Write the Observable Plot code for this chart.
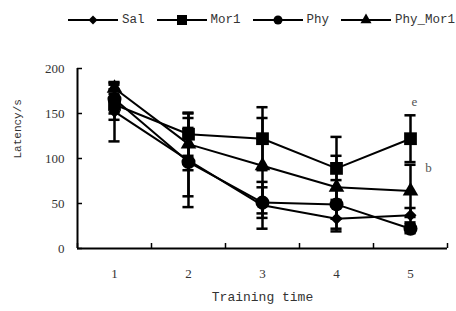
<!DOCTYPE html>
<html><head><meta charset="utf-8">
<script src="https://cdn.jsdelivr.net/npm/d3@7"></script>
<script src="https://cdn.jsdelivr.net/npm/@observablehq/plot@0.6"></script>
<style>
body{margin:0;background:#fff;width:456px;height:311px;overflow:hidden}
#legend{height:40px;display:flex;align-items:center;gap:12px;padding-left:68px;box-sizing:border-box;font-family:'Liberation Mono',monospace;font-size:12.5px;color:#333}
#legend .item{display:flex;align-items:center;gap:4px}
</style></head>
<body><div id="legend"></div><div id="chart"></div>
<script>
const times = [1, 2, 3, 4, 5];
const series = ["Sal", "Mor1", "Phy", "Phy_Mor1"];
const symbols = ["diamond2", "square", "circle", "triangle"];
const sal = [152, 98, 48, 33, 37];
const salErr = [33, 52, 26, 14, 8];
const mor1 = [160, 127, 122, 89, 122];
const mor1Err = [17, 24, 35, 35, 26];
const phy = [166, 96, 51, 49, 22];
const phyErr = [16, 38, 17, 27, 5];
const phyMor1 = [178, 116, 92, 68, 64];
const phyMor1Err = [6, 29, 53, 35, 29];
const yTicks = [0, 50, 100, 150, 200];
const letters = ["e", "b"];

const serif = "'Liberation Serif', serif";
const mono = "'Liberation Mono', monospace";
const values = [sal, mor1, phy, phyMor1];
const errs = [salErr, mor1Err, phyErr, phyMor1Err];
const data = [];
series.forEach((s, i) => times.forEach((t, j) => data.push({series: s, t, v: values[i][j], e: errs[i][j], symbol: symbols[i]})));
const boundaries = d3.range(0.5, 6, 1);
const sizes = {diamond2: 5.4, square: 7.2, circle: 7, triangle: 5.8};
const legendSizes = {diamond2: 52, square: 100, circle: 64, triangle: 53};
const d3sym = {diamond2: d3.symbolDiamond2, square: d3.symbolSquare, circle: d3.symbolCircle, triangle: d3.symbolTriangle};

const legend = d3.select("#legend");
series.forEach((s, i) => {
  const it = legend.append("div").attr("class", "item");
  const svg = it.append("svg").attr("width", 50).attr("height", 16);
  svg.append("line").attr("x1", 0).attr("x2", 50).attr("y1", 8).attr("y2", 8).attr("stroke", "#000").attr("stroke-width", 2);
  svg.append("path").attr("transform", "translate(25,8)").attr("d", d3.symbol(d3sym[symbols[i]], legendSizes[symbols[i]])()).attr("fill", "#000");
  it.append("span").text(s);
});

const chart = Plot.plot({
  width: 456, height: 271,
  marginTop: 28, marginBottom: 63, marginLeft: 77, marginRight: 9,
  x: {domain: [0.5, 5.5]},
  y: {domain: [0, 200]},
  style: {fontSize: "13px", color: "#333", fontFamily: serif},
  marks: [
    Plot.axisY({ticks: yTicks, tickSize: 0, tickPadding: 13, label: null, fill: "#333", fontFamily: serif, fontSize: 13}),
    Plot.axisY({ticks: yTicks, tickSize: -5, tickFormat: () => "", label: null, strokeWidth: 1.5, stroke: "#000"}),
    Plot.axisX({ticks: times, tickSize: 0, tickPadding: 20, tickFormat: d => String(d), label: null, fill: "#333", fontFamily: serif, fontSize: 13}),
    Plot.axisX({ticks: boundaries, tickSize: -5, tickFormat: () => "", label: null, strokeWidth: 1.5, stroke: "#000"}),
    Plot.ruleX([0.5], {stroke: "#000", strokeWidth: 2}),
    Plot.ruleY([0], {stroke: "#000", strokeWidth: 2}),
    Plot.ruleX(data, {x: "t", y1: d => d.v - d.e, y2: d => d.v + d.e, stroke: "#000", strokeWidth: 2.5}),
    Plot.ruleY(data, {y: d => d.v - d.e, x1: d => d.t - 0.075, x2: d => d.t + 0.075, stroke: "#000", strokeWidth: 2.5}),
    Plot.ruleY(data, {y: d => d.v + d.e, x1: d => d.t - 0.075, x2: d => d.t + 0.075, stroke: "#000", strokeWidth: 2.5}),
    Plot.line(data, {x: "t", y: "v", z: "series", stroke: "#000", strokeWidth: 2}),
    ...symbols.map(sym => Plot.dot(data.filter(d => d.symbol === sym), {x: "t", y: "v", symbol: sym, r: sizes[sym], fill: "#000", stroke: null})),
    Plot.text([{t: 5, v: mor1[4] + mor1Err[4], text: letters[0]}], {x: "t", y: "v", text: "text", dx: 4, dy: -13, fill: "#555", fontSize: 13, fontFamily: serif}),
    Plot.text([{t: 5, v: phyMor1[4] + phyMor1Err[4], text: letters[1]}], {x: "t", y: "v", text: "text", dx: 18, dy: 3, fill: "#555", fontSize: 13, fontFamily: serif}),
    Plot.text(["Latency/s"], {frameAnchor: "left", dx: -60, rotate: -90, fontFamily: mono, fontSize: 11, fill: "#333"}),
    Plot.text(["Training time"], {frameAnchor: "bottom", dy: 52, fontFamily: mono, fontSize: 13, fill: "#333"})
  ]
});
document.getElementById("chart").append(chart);
</script></body></html>
